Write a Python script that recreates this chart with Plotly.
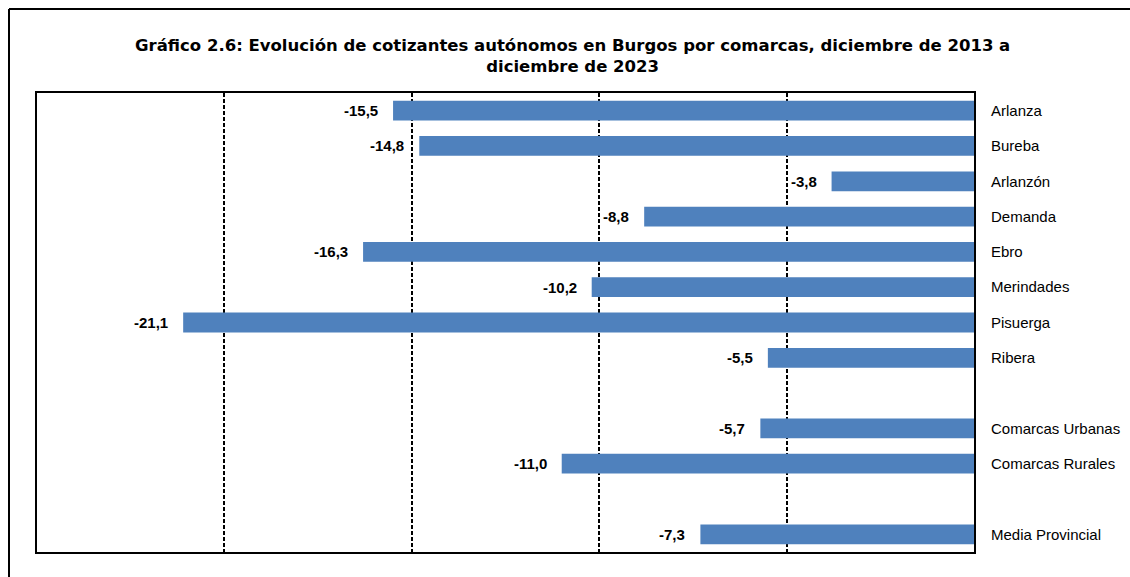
"""Evolución de cotizantes autónomos en Burgos por comarcas (Plotly)."""

import plotly.graph_objects as go

comarcas = ["Arlanza", "Bureba", "Arlanzón", "Demanda", "Ebro", "Merindades",
            "Pisuerga", "Ribera", " ", "Comarcas Urbanas", "Comarcas Rurales",
            "  ", "Media Provincial"]
variacion = [-15.5, -14.8, -3.8, -8.8, -16.3, -10.2, -21.1, -5.5, None,
             -5.7, -11.0, None, -7.3]

etiquetas = ["" if v is None else f"{v:.1f}".replace(".", ",") for v in variacion]

fig = go.Figure(go.Bar(
    x=variacion,
    y=comarcas,
    orientation="h",
    marker=dict(color="#4F81BD", line=dict(width=0)),
))

# etiquetas de valor a la izquierda del extremo de cada barra
for c, v, t in zip(comarcas, variacion, etiquetas):
    if v is None:
        continue
    fig.add_annotation(
        x=v, y=c, text=t, showarrow=False,
        xanchor="right", yanchor="middle", xshift=-13,
        font=dict(family="Liberation Sans, Arial", size=15, color="black", weight="bold"),
    )

W, H = 1130, 577
L, R, T, B = 37, 156, 93, 25

fig.update_layout(
    width=W, height=H,
    margin=dict(l=L, r=R, t=T, b=B, autoexpand=False),
    plot_bgcolor="white",
    paper_bgcolor="white",
    bargap=0.44,
    showlegend=False,
    font=dict(family="Liberation Sans, Arial", color="black"),
)
fig.update_xaxes(
    range=[-25, 0],
    dtick=5,
    showgrid=True, gridcolor="black", griddash="4px,2px", gridwidth=1.5,
    showline=True, linecolor="black", linewidth=2, mirror=True,
    showticklabels=False, zeroline=False, automargin=False,
)
fig.update_yaxes(
    autorange="reversed",
    side="right",
    showline=True, linecolor="black", linewidth=2, mirror=True,
    ticks="outside", ticklen=12, tickcolor="white",
    tickfont=dict(family="Liberation Sans, Arial", size=15, color="black"),
    showgrid=False, automargin=False,
)

pw = W - L - R
ph = H - T - B
fig.add_annotation(
    xref="paper", yref="paper",
    x=(572 - L) / pw, y=1 + (T - 56) / ph,
    text="Gráfico 2.6: Evolución de cotizantes autónomos en Burgos por comarcas, diciembre de 2013 a<br>diciembre de 2023",
    showarrow=False, xanchor="center", yanchor="middle",
    font=dict(family="DejaVu Sans, Verdana", size=16.5, color="black", weight="bold"),
)

# marco exterior del gráfico (solo lados izquierdo y superior visibles)
fig.add_shape(type="line", xref="paper", yref="paper",
              x0=(9 - L) / pw, x1=(9 - L) / pw, y0=-B / ph, y1=1 + (T - 9) / ph,
              line=dict(color="black", width=2))
fig.add_shape(type="line", xref="paper", yref="paper",
              x0=(9 - L) / pw, x1=(W - L) / pw, y0=1 + (T - 9) / ph, y1=1 + (T - 9) / ph,
              line=dict(color="black", width=2))

fig.write_html(
    "out.html",
    config={"displayModeBar": False},
    post_script="document.body.style.margin='0';document.body.style.overflow='hidden';",
)
